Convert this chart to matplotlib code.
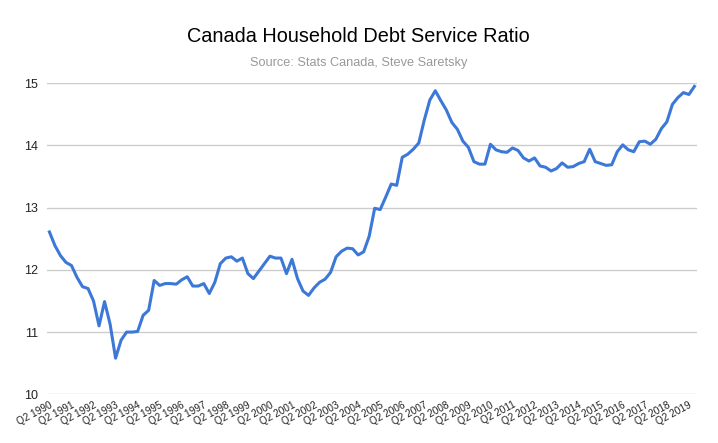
import matplotlib
matplotlib.use("Agg")
import matplotlib.pyplot as plt
from matplotlib.transforms import ScaledTranslation

plt.rcParams['font.family'] = ['Liberation Sans', 'DejaVu Sans']

years = list(range(1990, 2020))
tick_labels = [f"Q2 {y}" for y in years]

dsr = [
    12.61, 12.39, 12.23, 12.12, 12.07, 11.88, 11.73, 11.70, 11.50, 11.10,
    11.49, 11.13, 10.58, 10.87, 11.00, 11.00, 11.01, 11.27, 11.35, 11.83,
    11.75, 11.78, 11.78, 11.77, 11.84, 11.89, 11.74, 11.74, 11.78, 11.62,
    11.80, 12.10, 12.19, 12.21, 12.14, 12.19, 11.94, 11.86, 11.98, 12.10,
    12.22, 12.19, 12.19, 11.94, 12.17, 11.86, 11.66, 11.59, 11.71, 11.80,
    11.85, 11.96, 12.21, 12.30, 12.35, 12.34, 12.24, 12.29, 12.54, 12.99,
    12.97, 13.17, 13.38, 13.36, 13.81, 13.86, 13.94, 14.04, 14.41, 14.73,
    14.88, 14.72, 14.57, 14.37, 14.26, 14.07, 13.97, 13.74, 13.70, 13.70,
    14.02, 13.93, 13.90, 13.89, 13.96, 13.92, 13.80, 13.75, 13.80, 13.67,
    13.65, 13.59, 13.63, 13.72, 13.65, 13.66, 13.71, 13.74, 13.94, 13.74,
    13.71, 13.68, 13.69, 13.90, 14.01, 13.93, 13.90, 14.06, 14.07, 14.02,
    14.10, 14.27, 14.38, 14.66, 14.77, 14.85, 14.82, 14.95,
]

fig = plt.figure(figsize=(7.18, 4.43), dpi=100)
ax = fig.add_axes([0.065, 0.110, 0.906, 0.702])

x = list(range(len(dsr)))
ax.plot(x, dsr, color="#3c78d8", linewidth=2.2, solid_joinstyle='round')

ax.set_xlim(-0.5, len(dsr) - 0.5)
ax.set_ylim(10, 15)
ax.set_yticks([10, 11, 12, 13, 14, 15])
ax.set_yticklabels(["10", "11", "12", "13", "14", "15"], fontsize=9, color="#222222")
ax.set_xticks(list(range(0, len(dsr), 4))[:len(tick_labels)])
ax.set_xticklabels(tick_labels, rotation=28, ha='right', rotation_mode='anchor',
                   fontsize=7.2, color="#222222")
offset = ScaledTranslation(3 / 100, 0, fig.dpi_scale_trans)
for lab in ax.get_xticklabels():
    lab.set_transform(lab.get_transform() + offset)
ax.tick_params(axis='both', length=0)
ax.tick_params(axis='y', pad=6)
ax.tick_params(axis='x', pad=4)
ax.grid(axis='y', color="#cccccc", linewidth=1)
ax.set_axisbelow(True)
for s in ax.spines.values():
    s.set_visible(False)

fig.text(0.499, 0.918, "Canada Household Debt Service Ratio", ha='center', va='center',
         fontsize=14.3, color="#000000")
fig.text(0.499, 0.857, "Source: Stats Canada, Steve Saretsky", ha='center', va='center',
         fontsize=9.2, color="#999999")

fig.savefig("out.png", dpi=100)
